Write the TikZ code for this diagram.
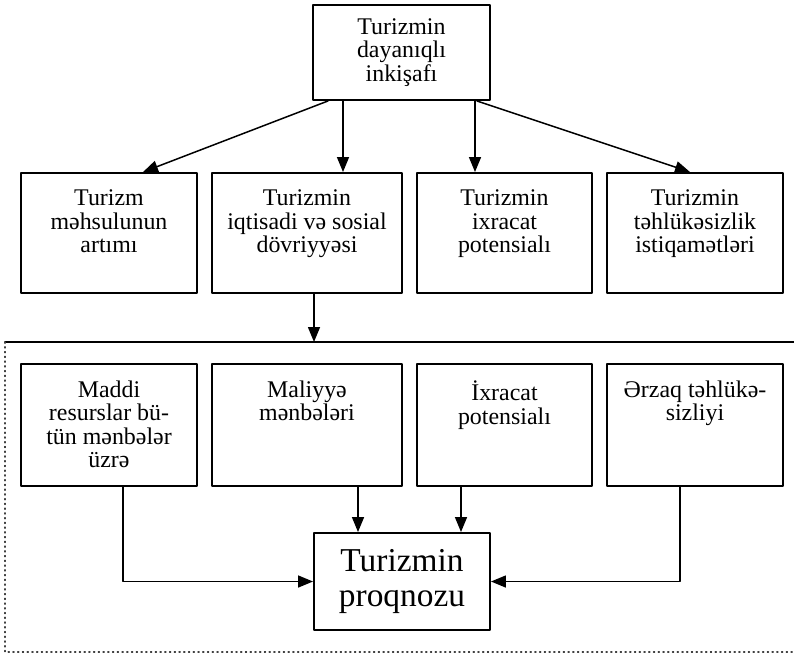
\documentclass[tikz,border=0pt]{standalone}
\usepackage{fontspec}
\setmainfont{Liberation Serif}
\usetikzlibrary{arrows.meta}

\newcommand{\boxlines}[3]{\parbox[t][#2][t]{#1}{\centering #3}}

\begin{document}
\begin{tikzpicture}[line cap=round,line join=round,
  box/.style={draw,line width=1.1pt,inner sep=0pt,font=\fontsize{13.6}{13.3}\selectfont},
  rowbox/.style={box,inner ysep=0.34cm},
  arr/.style={line width=0.85pt,-{Triangle[length=0.3cm,width=0.24cm]}}]
  \useasboundingbox (0,0) rectangle (15.88,-13.10);
  % top
  \node[box,minimum width=3.54cm,minimum height=1.9cm,align=center] (dev) at (8.03,-1.05)
    {Turizmin\\dayanıqlı\\inkişafı};
  % first row
  \node[rowbox] (growth) at (2.18,-4.66) {\boxlines{3.52cm}{1.72cm}{Turizm\\məhsulunun\\artımı}};
  \node[rowbox] (turnover) at (6.14,-4.66) {\boxlines{3.80cm}{1.72cm}{Turizmin\\iqtisadi və sosial\\dövriyyəsi}};
  \node[rowbox] (export) at (10.09,-4.66) {\boxlines{3.50cm}{1.72cm}{Turizmin\\ixracat\\potensialı}};
  \node[rowbox] (safety) at (13.90,-4.66) {\boxlines{3.52cm}{1.72cm}{Turizmin\\təhlükəsizlik\\istiqamətləri}};
  \draw[arr] ([xshift=-1.47cm]dev.south) -- ([xshift=0.68cm]growth.north);
  \draw[arr] ([xshift=-1.17cm]dev.south) -- ([xshift=-1.17cm]dev.south |- turnover.north);
  \draw[arr] ([xshift=1.47cm]dev.south) -- ([xshift=1.47cm]dev.south |- export.north);
  \draw[arr] ([xshift=1.51cm]dev.south) -- ([xshift=-0.10cm]safety.north);
  % frame
  \coordinate (frameL) at (0.10,-6.84);
  \coordinate (frameR) at (15.88,-6.84);
  \coordinate (frameBL) at (0.10,-13.04);
  \coordinate (frameBR) at (15.86,-13.04);
  \draw[line width=1.1pt] (frameL) -- (frameR);
  \draw[dotted,line width=0.7pt,black!75] (frameL) -- (frameBL) -- (frameBR);
  \draw[arr] ([xshift=0.14cm]turnover.south) -- ([xshift=0.14cm]turnover.south |- frameL);
  % second row
  \node[rowbox] (material) at (2.18,-8.50) {\boxlines{3.52cm}{1.76cm}{Maddi\\resurslar bü-\\tün mənbələr\\üzrə}};
  \node[rowbox] (finance) at (6.14,-8.50) {\boxlines{3.80cm}{1.76cm}{Maliyyə\\mənbələri}};
  \node[rowbox] (exportpot) at (10.09,-8.50) {\boxlines{3.50cm}{1.76cm}{İxracat\\potensialı}};
  \node[rowbox] (food) at (13.90,-8.50) {\boxlines{3.52cm}{1.76cm}{Ərzaq təhlükə-\\sizliyi}};
  \node[box,minimum width=3.52cm,minimum height=1.94cm,align=center,
    font=\fontsize{19}{19.5}\selectfont] (forecast) at (8.04,-11.63) {Turizmin\\proqnozu};
  \draw[arr] ([xshift=0.28cm]material.south) |- (forecast.west);
  \draw[arr] ([xshift=1.02cm]finance.south) -- ([xshift=1.02cm]finance.south |- forecast.north);
  \draw[arr] ([xshift=-0.87cm]exportpot.south) -- ([xshift=-0.87cm]exportpot.south |- forecast.north);
  \draw[arr] ([xshift=-0.30cm]food.south) |- (forecast.east);
\end{tikzpicture}
\end{document}
